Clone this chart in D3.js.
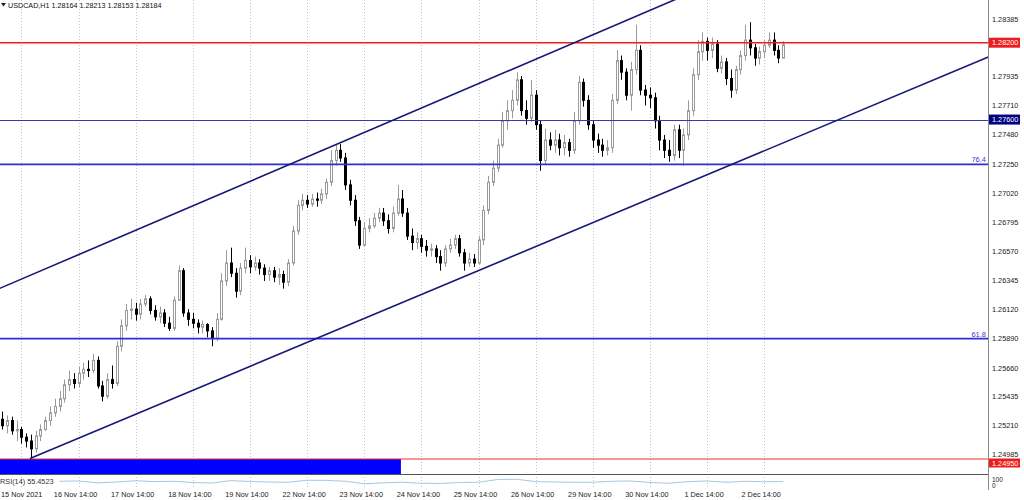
<!DOCTYPE html>
<html><head><meta charset="utf-8">
<script src="https://cdn.jsdelivr.net/npm/d3@7"></script>
<style>
body{margin:0;background:#fff;overflow:hidden}
svg{display:block}
text{font-family:"Liberation Sans",Arial,sans-serif}
</style>
</head><body>
<svg id="c" width="1024" height="500"></svg>
<script>
// ---------------- data ----------------
const chartTitle = "USDCAD,H1  1.28164 1.28213 1.28153 1.28184";
const barHours = 2; // each candle below spans two hours of H1 data (15 Nov 05:00 .. 2 Dec 23:00)

const open = [
1.2526,1.2521,1.2525,1.2517,1.2518,1.2512,1.2509,1.2503,1.2513,1.2518,
1.2525,1.2531,1.2536,1.2542,1.2553,1.2557,1.2554,1.2562,1.2565,1.2564,
1.2572,1.2552,1.2544,1.2557,1.2554,1.2583,1.2599,1.2611,1.2612,1.2608,
1.2616,1.2620,1.2611,1.2606,1.2609,1.2601,1.2597,1.2619,1.2642,1.2609,
1.2604,1.2601,1.2598,1.2600,1.2595,1.2589,1.2604,1.2634,1.2648,1.2640,
1.2626,1.2644,1.2650,1.2645,1.2648,1.2644,1.2639,1.2642,1.2637,1.2639,
1.2633,1.2648,1.2673,1.2693,1.2697,1.2694,1.2698,1.2697,1.2702,1.2711,
1.2728,1.2736,1.2730,1.2709,1.2697,1.2681,1.2662,1.2675,1.2677,1.2683,
1.2687,1.2681,1.2675,1.2687,1.2698,1.2687,1.2669,1.2664,1.2667,1.2661,
1.2658,1.2659,1.2653,1.2648,1.2659,1.2662,1.2667,1.2656,1.2648,1.2651,
1.2648,1.2666,1.2689,1.2711,1.2722,1.2740,1.2759,1.2767,1.2775,1.2791,
1.2767,1.2761,1.2779,1.2756,1.2728,1.2744,1.2740,1.2744,1.2738,1.2742,
1.2736,1.2759,1.2789,1.2775,1.2756,1.2744,1.2740,1.2736,1.2738,1.2775,
1.2806,1.2797,1.2779,1.2799,1.2814,1.2783,1.2779,1.2777,1.2759,1.2744,
1.2736,1.2732,1.2752,1.2736,1.2748,1.2767,1.2795,1.2813,1.2821,1.2814,
1.2819,1.2800,1.2805,1.2792,1.2783,1.2799,1.2810,1.2822,1.2816,1.2808,
1.2813,1.2818,1.2822,1.2814,1.2808];

const high = [
1.2532,1.2529,1.2528,1.2525,1.2520,1.2515,1.2514,1.2517,1.2522,1.2528,
1.2536,1.2542,1.2548,1.2557,1.2564,1.2562,1.2567,1.2570,1.2572,1.2577,
1.2575,1.2556,1.2562,1.2568,1.2587,1.2604,1.2616,1.2620,1.2617,1.2620,
1.2623,1.2622,1.2615,1.2614,1.2612,1.2606,1.2622,1.2646,1.2644,1.2612,
1.2609,1.2604,1.2603,1.2601,1.2598,1.2609,1.2640,1.2658,1.2660,1.2644,
1.2648,1.2660,1.2654,1.2653,1.2651,1.2647,1.2645,1.2645,1.2644,1.2642,
1.2651,1.2677,1.2697,1.2702,1.2701,1.2702,1.2703,1.2706,1.2714,1.2736,
1.2741,1.2741,1.2734,1.2713,1.2701,1.2684,1.2680,1.2683,1.2687,1.2691,
1.2691,1.2686,1.2692,1.2709,1.2705,1.2691,1.2675,1.2672,1.2670,1.2666,
1.2663,1.2662,1.2658,1.2662,1.2667,1.2670,1.2670,1.2659,1.2656,1.2655,
1.2669,1.2693,1.2716,1.2728,1.2745,1.2766,1.2775,1.2783,1.2797,1.2794,
1.2775,1.2791,1.2783,1.2759,1.2753,1.2750,1.2752,1.2749,1.2748,1.2745,
1.2766,1.2794,1.2792,1.2779,1.2759,1.2749,1.2745,1.2744,1.2780,1.2814,
1.2810,1.2800,1.2805,1.2834,1.2818,1.2787,1.2785,1.2781,1.2763,1.2748,
1.2744,1.2756,1.2756,1.2753,1.2775,1.2800,1.2822,1.2828,1.2824,1.2824,
1.2822,1.2810,1.2808,1.2799,1.2802,1.2814,1.2834,1.2836,1.2819,1.2817,
1.2822,1.2828,1.2828,1.2818,1.28213];

const low = [
1.2518,1.2515,1.2514,1.2509,1.2507,1.2504,1.2495,1.2500,1.2509,1.2517,
1.2521,1.2528,1.2532,1.2539,1.2548,1.2550,1.2551,1.2557,1.2559,1.2562,
1.2550,1.2540,1.2542,1.2550,1.2552,1.2579,1.2595,1.2604,1.2603,1.2604,
1.2614,1.2608,1.2603,1.2601,1.2598,1.2595,1.2595,1.2619,1.2606,1.2599,
1.2597,1.2593,1.2593,1.2590,1.2583,1.2587,1.2603,1.2630,1.2637,1.2621,
1.2623,1.2640,1.2640,1.2642,1.2639,1.2634,1.2634,1.2633,1.2631,1.2628,
1.2630,1.2646,1.2670,1.2689,1.2691,1.2692,1.2692,1.2694,1.2698,1.2708,
1.2724,1.2727,1.2705,1.2693,1.2677,1.2659,1.2661,1.2672,1.2675,1.2680,
1.2677,1.2671,1.2672,1.2685,1.2684,1.2666,1.2658,1.2659,1.2656,1.2653,
1.2653,1.2648,1.2642,1.2645,1.2656,1.2659,1.2653,1.2642,1.2645,1.2645,
1.2647,1.2662,1.2686,1.2708,1.2719,1.2738,1.2752,1.2761,1.2771,1.2763,
1.2756,1.2758,1.2752,1.2720,1.2725,1.2736,1.2734,1.2732,1.2732,1.2731,
1.2733,1.2756,1.2770,1.2752,1.2738,1.2734,1.2731,1.2732,1.2734,1.2772,
1.2791,1.2775,1.2767,1.2795,1.2779,1.2771,1.2769,1.2753,1.2736,1.2730,
1.2727,1.2728,1.2730,1.2724,1.2744,1.2763,1.2791,1.2806,1.2806,1.2808,
1.2797,1.2796,1.2787,1.2777,1.2780,1.2795,1.2806,1.2810,1.2802,1.2803,
1.2808,1.2816,1.2810,1.2804,1.28153];

const close = [
1.2521,1.2525,1.2517,1.2518,1.2512,1.2509,1.2503,1.2513,1.2518,1.2525,
1.2531,1.2536,1.2542,1.2553,1.2557,1.2554,1.2562,1.2565,1.2564,1.2572,
1.2552,1.2544,1.2557,1.2554,1.2583,1.2599,1.2611,1.2612,1.2608,1.2616,
1.2620,1.2611,1.2606,1.2609,1.2601,1.2597,1.2619,1.2642,1.2609,1.2604,
1.2601,1.2598,1.2600,1.2595,1.2589,1.2604,1.2634,1.2648,1.2640,1.2626,
1.2644,1.2650,1.2645,1.2648,1.2644,1.2639,1.2642,1.2637,1.2639,1.2633,
1.2648,1.2673,1.2693,1.2697,1.2694,1.2698,1.2697,1.2702,1.2711,1.2728,
1.2736,1.2730,1.2709,1.2697,1.2681,1.2662,1.2675,1.2677,1.2683,1.2687,
1.2681,1.2675,1.2687,1.2698,1.2687,1.2669,1.2664,1.2667,1.2661,1.2658,
1.2659,1.2653,1.2648,1.2659,1.2662,1.2667,1.2656,1.2648,1.2651,1.2648,
1.2666,1.2689,1.2711,1.2722,1.2740,1.2759,1.2767,1.2775,1.2791,1.2767,
1.2761,1.2779,1.2756,1.2728,1.2744,1.2740,1.2744,1.2738,1.2742,1.2736,
1.2759,1.2789,1.2775,1.2756,1.2744,1.2740,1.2736,1.2738,1.2775,1.2806,
1.2797,1.2779,1.2799,1.2814,1.2783,1.2779,1.2777,1.2759,1.2744,1.2736,
1.2732,1.2752,1.2736,1.2748,1.2767,1.2795,1.2813,1.2821,1.2814,1.2819,
1.2800,1.2805,1.2792,1.2783,1.2799,1.2810,1.2822,1.2816,1.2808,1.2813,
1.2818,1.2822,1.2814,1.2808,1.28184];

// time axis (hours counted from 15 Nov 05:00, trading hours only)
const timeLabels = ["15 Nov 2021","16 Nov 14:00","17 Nov 14:00","18 Nov 14:00","19 Nov 14:00",
  "22 Nov 14:00","23 Nov 14:00","24 Nov 14:00","25 Nov 14:00","26 Nov 14:00",
  "29 Nov 14:00","30 Nov 14:00","1 Dec 14:00","2 Dec 14:00"];
const timeHours = [9,33,57,81,105,129,153,177,201,225,249,273,297,321];

// price axis (1.28160 sits hidden under the 1.28200 marker in the reference)
const priceTicks = [1.28385,1.27935,1.27710,1.27480,1.27250,1.27020,1.26795,
  1.26570,1.26345,1.26120,1.25890,1.25660,1.25435,1.25210,1.24985];

// horizontal levels
const levelPrices = [1.28200, 1.27600, 1.27250, 1.25890, 1.24950];
const levelNames  = ["resistance", "pivot", "fib764", "fib618", "support"];
const fibLabels   = {fib764: "76.4", fib618: "61.8"};
const boxLabels   = {resistance: "1.28200", pivot: "1.27600", support: "1.24950"};

// trend channel (hour, price) anchor points
const channelUpper = [[0, 1.26283], [283.1, 1.28533]];
const channelLower = [[12.6, 1.24954], [415, 1.28088]];

// blue zone below support
const zoneHours = [0, 168.4];
const zonePrices = [1.24950, 1.24700];

// RSI(14), one reading every 8 hours starting at hour 25
const rsiLabel = "RSI(14) 55.4523";
const rsiStartHour = 25, rsiStepHours = 8;
const rsiValues = [58,60,45,52,62,55,58,48,44,63,56,52,50,66,65,58,38,45,50,42,
  40,48,50,72,74,55,52,50,50,58,60,48,42,55,60,50,58,54,55.45];
const rsiTicks = ["100","0"];

// ---------------- drawing ----------------
const svg = d3.select("#c");
const W = 1024, plotR = 988, mainB = 474, rsiT = 475, rsiB = 489;

const x = d3.scaleLinear().domain([0, 415]).range([0, plotR]);
const y = d3.scaleLinear().domain([1.24950, 1.28385]).range([459, 19]);
const yr = d3.scaleLinear().domain([0, 100]).range([rsiB - 0.5, rsiT + 1]);

svg.append("rect").attr("width", W).attr("height", 500).attr("fill", "#fff");

const defs = svg.append("defs");
defs.append("clipPath").attr("id", "mainClip").append("rect")
  .attr("x", 0).attr("y", 0).attr("width", plotR).attr("height", mainB);

// vertical grid
const grid = svg.append("g");
timeHours.forEach(h => {
  const gx = Math.round(x(h)) + 0.5;
  grid.append("line").attr("x1", gx).attr("x2", gx).attr("y1", 0).attr("y2", rsiB)
    .attr("stroke", "#c4c4c4").attr("stroke-width", 1).attr("stroke-dasharray", "1,2");
});

const main = svg.append("g").attr("clip-path", "url(#mainClip)");

// blue zone
main.append("rect")
  .attr("x", x(zoneHours[0])).attr("width", x(zoneHours[1]) - x(zoneHours[0]))
  .attr("y", y(zonePrices[0])).attr("height", y(zonePrices[1]) - y(zonePrices[0]))
  .attr("fill", "#0000ff");

// candles
const bars = close.map((c, i) => ({o: open[i], h: high[i], l: low[i], c: c, t: i * barHours + 1}));
const cg = main.append("g");
bars.forEach(b => {
  const cx = Math.round(x(b.t)) + 0.5;
  const bull = b.c >= b.o;
  const col = bull ? "#9a9a9a" : "#000";
  cg.append("line").attr("x1", cx).attr("x2", cx).attr("y1", y(b.h)).attr("y2", y(b.l))
    .attr("stroke", col).attr("stroke-width", 1);
  const top = y(Math.max(b.o, b.c)), bot = y(Math.min(b.o, b.c));
  cg.append("rect").attr("x", cx - 1).attr("width", 2)
    .attr("y", top).attr("height", Math.max(0.5, bot - top))
    .attr("fill", bull ? "#fff" : "#000").attr("stroke", col).attr("stroke-width", 1);
});

// horizontal levels
const levelStyle = {
  resistance: {stroke: "#ee1c1c", w: 1.6},
  pivot: {stroke: "#3a3aa0", w: 1},
  fib764: {stroke: "#2e2ed4", w: 1.6},
  fib618: {stroke: "#2e2ed4", w: 1.6},
  support: {stroke: "#ee3030", w: 1.2}
};
levelPrices.forEach((p, i) => {
  const s = levelStyle[levelNames[i]];
  const ly = levelNames[i] === "pivot" ? Math.round(y(p)) + 0.5 : y(p);
  main.append("line").attr("x1", 0).attr("x2", plotR).attr("y1", ly).attr("y2", ly)
    .attr("stroke", s.stroke).attr("stroke-width", s.w);
  if (fibLabels[levelNames[i]]) {
    main.append("text").attr("x", plotR - 2).attr("y", y(p) - 2).attr("text-anchor", "end")
      .attr("font-size", 7.5).attr("fill", "#3a3ad8").text(fibLabels[levelNames[i]]);
  }
});

// channel lines (rays extended across the plot)
function ray(pts, extendLeft) {
  const [p0, p1] = pts;
  const slope = (p1[1] - p0[1]) / (p1[0] - p0[0]);
  const h0 = extendLeft ? -20 : p0[0], h1 = 440;
  return [[x(h0), y(p0[1] + slope * (h0 - p0[0]))], [x(h1), y(p0[1] + slope * (h1 - p0[0]))]];
}
[ray(channelUpper, true), ray(channelLower, false)].forEach(seg => {
  main.append("line").attr("x1", seg[0][0]).attr("y1", seg[0][1])
    .attr("x2", seg[1][0]).attr("y2", seg[1][1])
    .attr("stroke", "#17177a").attr("stroke-width", 1.6);
});

// window separators & axis line
svg.append("line").attr("x1", 0).attr("x2", plotR).attr("y1", mainB + 0.5).attr("y2", mainB + 0.5)
  .attr("stroke", "#555").attr("stroke-width", 1);
svg.append("line").attr("x1", plotR + 0.5).attr("x2", plotR + 0.5).attr("y1", 0).attr("y2", rsiB + 1)
  .attr("stroke", "#8c8c8c").attr("stroke-width", 1);

// price axis labels
svg.append("g").selectAll("text").data(priceTicks).join("text")
  .attr("x", 992).attr("y", d => y(d)).attr("dy", "0.35em")
  .attr("font-size", 7.3).attr("fill", "#222").text(d => d.toFixed(5));

// level boxes on price axis
const boxColor = {resistance: "#ee1c1c", pivot: "#000080", support: "#ee1c1c"};
levelPrices.forEach((p, i) => {
  const n = levelNames[i];
  if (!boxLabels[n]) return;
  const top = n === "support" ? y(p) - 0.5 : y(p) - 5;
  svg.append("rect").attr("x", plotR + 1).attr("y", top).attr("width", 31).attr("height", n === "support" ? 9 : 10)
    .attr("fill", boxColor[n]);
  svg.append("text").attr("x", 992).attr("y", top + (n === "support" ? 4.5 : 5)).attr("dy", "0.35em")
    .attr("font-size", 7.3).attr("fill", "#fff").text(boxLabels[n]);
});

// RSI
const rsiLine = d3.line().x((d, i) => x(rsiStartHour + i * rsiStepHours)).y(d => yr(d));
svg.append("path").datum(rsiValues).attr("d", rsiLine).attr("fill", "none")
  .attr("stroke", "#a9c8dc").attr("stroke-width", 1);
svg.append("text").attr("x", 0).attr("y", 483.5).attr("font-size", 7.3).attr("fill", "#333").text(rsiLabel);
svg.append("text").attr("x", 992).attr("y", 481.5).attr("font-size", 6.5).attr("fill", "#222").text(rsiTicks[0]);
svg.append("text").attr("x", 992).attr("y", 487.5).attr("font-size", 6.5).attr("fill", "#222").text(rsiTicks[1]);

// time labels
svg.append("g").selectAll("text").data(timeLabels).join("text")
  .attr("x", (d, i) => i === 0 ? 1 : x(timeHours[i]) - 3).attr("y", 497)
  .attr("text-anchor", (d, i) => i === 0 ? "start" : "middle")
  .attr("font-size", 7.3).attr("fill", "#222").text(d => d);

// title
svg.append("path").attr("d", "M1,3 L6,3 L3.5,6.5 Z").attr("fill", "#222");
svg.append("text").attr("x", 8).attr("y", 8).attr("font-size", 7.2).attr("fill", "#111").text(chartTitle);
</script>
</body></html>
